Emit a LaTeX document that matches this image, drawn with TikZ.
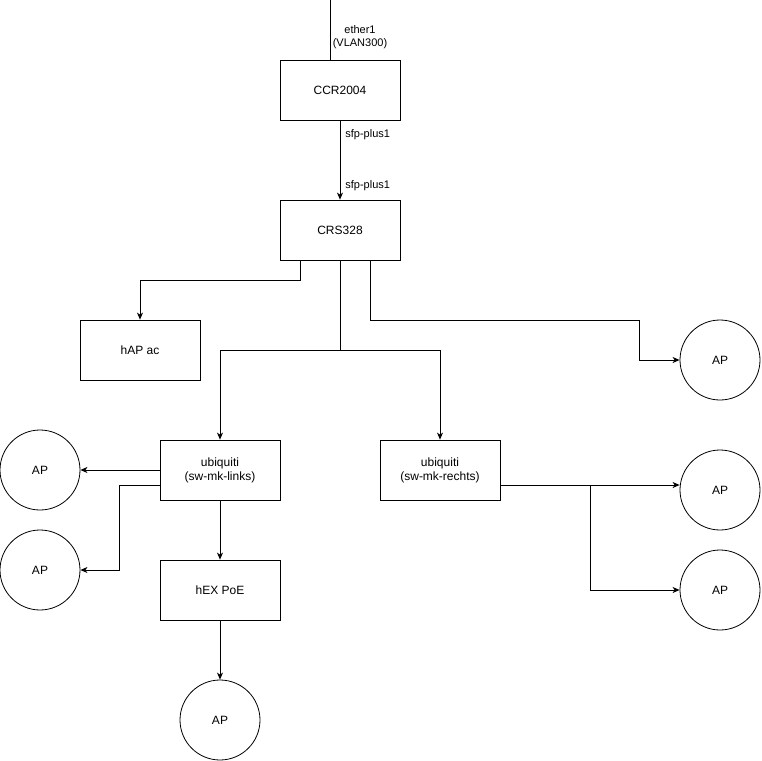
\documentclass[tikz,border=0pt]{standalone}
\usepackage{fontspec}
\setmainfont{Liberation Sans}
\usetikzlibrary{arrows.meta}
\newcommand{\devw}{120pt}
\newcommand{\devh}{60pt}
\newcommand{\apd}{80pt}
\tikzset{
  device/.style={draw,rectangle,minimum width=\devw,minimum height=\devh,
    inner sep=0pt,align=center,font=\fontsize{12}{14}\selectfont},
  ap/.style={draw,circle,minimum size=\apd,inner sep=0pt,
    font=\fontsize{12}{14}\selectfont},
  portlbl/.style={inner sep=0pt,align=center,font=\fontsize{11}{13}\selectfont},
  link/.style={-{Stealth[length=7pt,width=6pt,inset=2pt]},line width=0.8pt},
}
\begin{document}
\begin{tikzpicture}[x=1pt,y=-1pt,line width=0.8pt]
    \useasboundingbox (0,0) rectangle (761,761);

    \node[device] (ccr) at (340,90) {CCR2004};
    \node[device] (crs) at (340,230) {CRS328};
    \node[device] (hap) at (140,350) {hAP ac};
    \node[device] (links) at (220,470) {ubiquiti\\(sw-mk-links)};
    \node[device] (rechts) at (440,470) {ubiquiti\\(sw-mk-rechts)};
    \node[device] (hex) at (220,590) {hEX PoE};

    \node[ap] (apcrs) at (720,360) {AP};
    \node[ap] (aplinksa) at (40,470) {AP};
    \node[ap] (aplinksb) at (40,570) {AP};
    \node[ap] (aphex) at (220,720) {AP};
    \node[ap] (aprechtsa) at (720,490) {AP};
    \node[ap] (aprechtsb) at (720,590) {AP};

    \node[portlbl] (lblwan) at (360,37) {ether1\\(VLAN300)};
    \node[portlbl,anchor=west] (lblup) at (345,135) {sfp-plus1};
    \node[portlbl,anchor=west] (lbldown) at (345,186) {sfp-plus1};

    % uplink
    \coordinate (wan) at (330,0);
    \coordinate (split) at (340,350);
    \draw (wan) -- (wan |- ccr.north);
    \draw[link] (ccr) -- (crs);

    % CRS328
    \draw[link] ([xshift=-40pt]crs.south) -- ++(0,20) -| (hap.north);
    \draw (crs.south) -- (split);
    \draw[link] (split) -| (links.north);
    \draw[link] (split) -| (rechts.north);
    \draw[link] ([xshift=30pt]crs.south) -- ++(0,60)
      -| ([xshift=-40pt]apcrs.west) -- (apcrs.west);

    % sw-mk-links
    \draw[link] (links.west) -- (aplinksa.east);
    \draw[link] ([yshift=-15pt]links.west) -- ++(-40,0) |- (aplinksb.east);
    \draw[link] (links) -- (hex);
    \draw[link] (hex) -- (aphex);

    % sw-mk-rechts
    \draw[link] ([yshift=-15pt]rechts.east) -- ([yshift=5pt]aprechtsa.west);
    \draw[link] ([yshift=-15pt]rechts.east) -- ++(90,0) |- (aprechtsb.west);
  \end{tikzpicture}
\end{document}
